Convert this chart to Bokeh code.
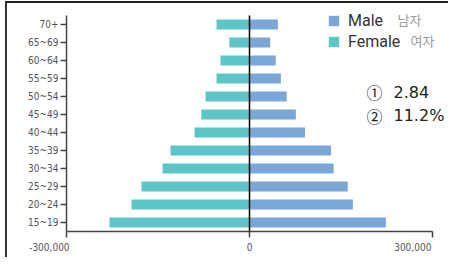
from bokeh.plotting import figure
from bokeh.models import (ColumnDataSource, Label, Legend, LegendItem, FixedTicker, Range1d,
                          InlineStyleSheet)
from bokeh.embed import file_html
from bokeh.resources import INLINE

ages = ["15~19", "20~24", "25~29", "30~34", "35~39", "40~44",
        "45~49", "50~54", "55~59", "60~64", "65~69", "70+"]
male = [223500, 169500, 161000, 138000, 133500, 91000,
        76000, 61000, 51500, 43000, 34000, 46500]
female = [229500, 193500, 177000, 142500, 129500, 90000,
          79000, 72000, 54000, 47500, 33000, 54000]
x_ticks = [-300000, 0, 300000]
x_tick_labels = ["-300,000", "0", "300,000"]
notes = [("①", "2.84"), ("②", "11.2%")]

MALE_C = "#7BA6D8"
FEMALE_C = "#5BC5C8"
AXIS_C = "#444444"
TICK_FONT = "'Liberation Sans Narrow', 'DejaVu Sans Condensed', sans-serif"

n = len(ages)
ypos = [i + 0.5 for i in range(n)]
src = ColumnDataSource(dict(y=ypos, age=ages, male=male,
                            female_neg=[-v for v in female]))

# layout of the frame (pixels)
FRAME_L, FRAME_R, ZERO_PX, HALF_PX = 66, 448, 249, 183
XMAX = x_ticks[-1]
px = XMAX / HALF_PX               # data units per pixel
BAND = 18                          # pixels per age group
TOP_EXTRA = 8                      # room above the last group

p = figure(width=448, height=257,
           x_range=Range1d(-XMAX, (FRAME_R - ZERO_PX) * px),
           y_range=Range1d(0, n + TOP_EXTRA / BAND),
           output_backend="svg", toolbar_location=None,
           min_border_left=FRAME_L, min_border_right=0,
           min_border_top=7, min_border_bottom=26)
p.outline_line_color = None
p.grid.visible = False
# thin outer frame of the original picture (left and top edges)
p.stylesheets = [InlineStyleSheet(css="""
:host { position: relative; }
:host::after { content: ''; position: absolute; left: 5px; top: 1px;
  width: 443px; height: 256px; box-sizing: border-box;
  border-left: 2px solid #333; border-top: 2px solid #222;
  pointer-events: none; z-index: 10; }
""")]

rm = p.hbar(y="y", left=0, right="male", height=0.55, source=src,
            fill_color=MALE_C, line_color=None)
rf = p.hbar(y="y", left="female_neg", right=0, height=0.55, source=src,
            fill_color=FEMALE_C, line_color=None)

# zero line over the age groups
p.segment(x0=[0], y0=[0], x1=[0], y1=[n], line_color="black", line_width=1.5)

# y axis
ya = p.yaxis[0]
ya.ticker = FixedTicker(ticks=ypos)
ya.major_label_overrides = {y: a for y, a in zip(ypos, ages)}
ya.bounds = (0, n)
ya.major_label_standoff = 2

# x axis; outer labels padded so they sit right-aligned to their ticks
xa = p.xaxis[0]
xa.ticker = FixedTicker(ticks=x_ticks)
xa.major_label_overrides = {
    t: (l if t == 0 else l + "\u00a0" * (12 if t < 0 else 6))
    for t, l in zip(x_ticks, x_tick_labels)}
xa.bounds = (x_ticks[0], x_ticks[-1])
xa.major_label_standoff = 4

for ax in (xa, ya):
    ax.minor_tick_line_color = None
    ax.axis_line_color = AXIS_C
    ax.axis_line_width = 1.5
    ax.major_tick_line_color = AXIS_C
    ax.major_tick_line_width = 1.5
    ax.major_tick_out = 6
    ax.major_tick_in = 0
    ax.major_label_text_font = TICK_FONT
    ax.major_label_text_font_size = "10px"
    ax.major_label_text_color = "#555555"

legend = Legend(items=[LegendItem(label="Male", renderers=[rm]),
                       LegendItem(label="Female", renderers=[rf])],
                location=(261, 180), padding=0, margin=0,
                border_line_color=None, background_fill_alpha=0,
                glyph_width=13, glyph_height=13, label_height=13,
                label_standoff=8, spacing=2,
                label_text_font="Roboto", label_text_font_size="16px",
                label_text_color="#333333")
p.add_layout(legend)

for txt, x, y in [("남자", 331, 212), ("여자", 344, 191)]:
    p.add_layout(Label(x=x, y=y, x_units="screen", y_units="screen", text=txt,
                       text_font="Noto Sans CJK KR", text_font_size="13px",
                       text_color="#999999", text_baseline="middle"))

for (mark, num), y in zip(notes, [140, 116]):
    p.add_layout(Label(x=300, y=y, x_units="screen", y_units="screen", text=mark,
                       text_font="Noto Sans CJK KR", text_font_size="16px",
                       text_color="#222222", text_baseline="middle"))
    p.add_layout(Label(x=327, y=y, x_units="screen", y_units="screen", text=num,
                       text_font="DejaVu Sans", text_font_size="16px",
                       text_color="#222222", text_baseline="middle"))

open("out.html", "w").write(file_html(p, INLINE))
